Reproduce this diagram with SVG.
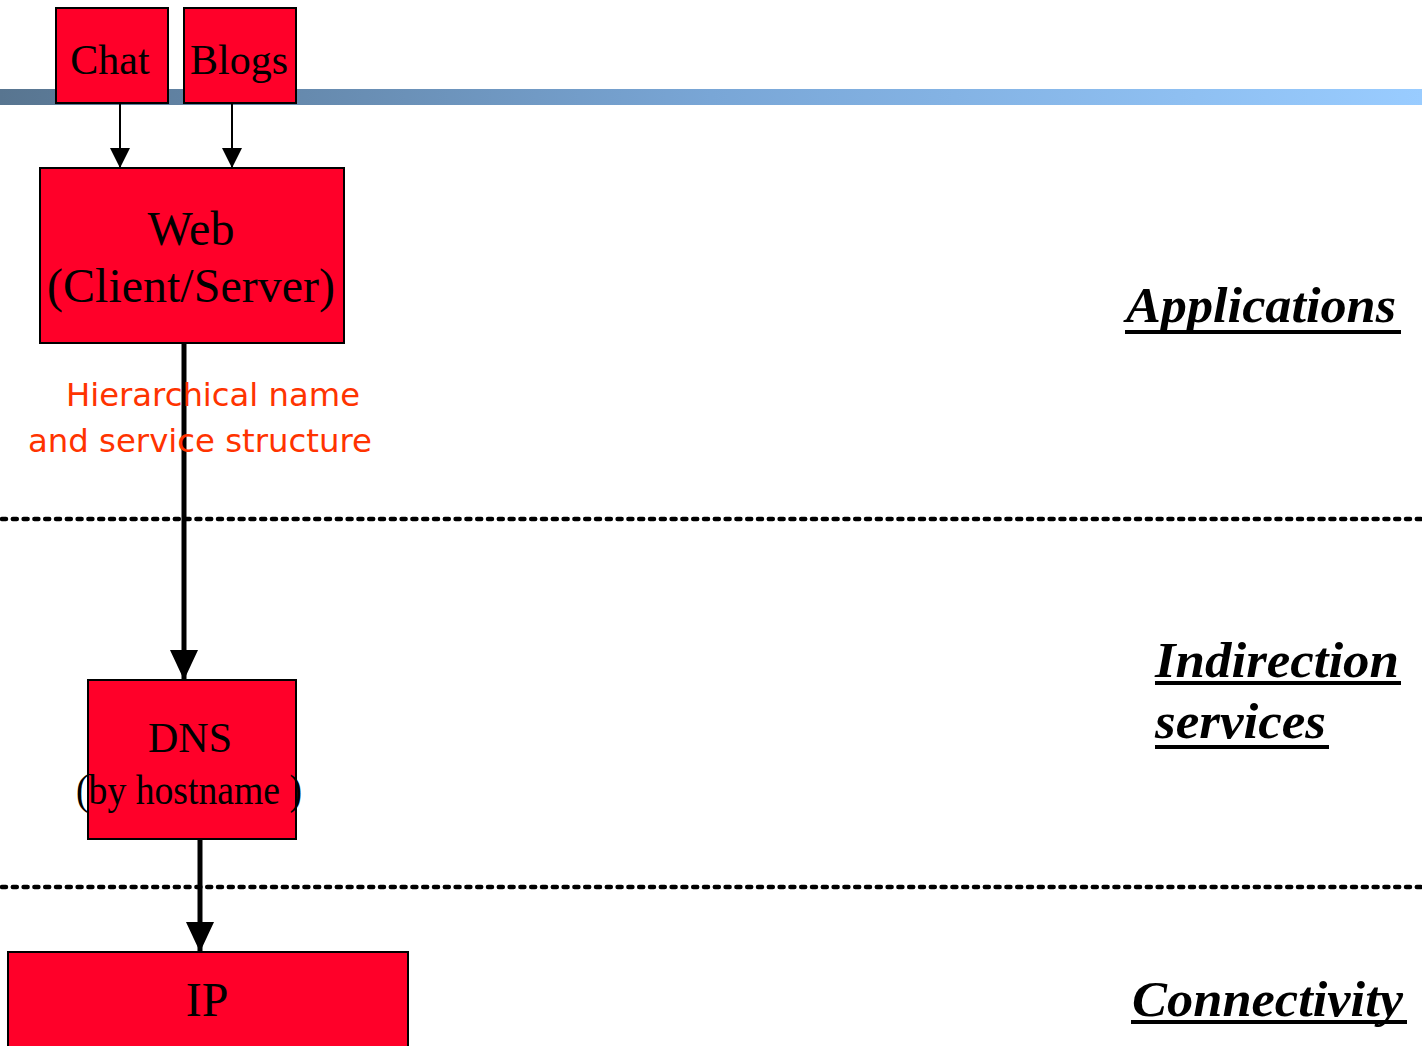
<svg xmlns="http://www.w3.org/2000/svg" width="1422" height="1046" viewBox="0 0 1422 1046">
  <defs>
    <linearGradient id="bar" x1="0" y1="0" x2="1" y2="0">
      <stop offset="0" stop-color="#587590"/>
      <stop offset="0.5" stop-color="#79a6d6"/>
      <stop offset="1" stop-color="#99ccff"/>
    </linearGradient>
    <marker id="headSmall" viewBox="0 0 20 20" markerWidth="20" markerHeight="20" refX="20" refY="10" orient="auto" markerUnits="userSpaceOnUse">
      <path d="M0,0 L20,10 L0,20 Z" fill="#000"/>
    </marker>
    <marker id="headBig" viewBox="0 0 30 28" markerWidth="30" markerHeight="28" refX="30" refY="14" orient="auto" markerUnits="userSpaceOnUse">
      <path d="M0,0 L30,14 L0,28 Z" fill="#000"/>
    </marker>
  </defs>
  <style>
    .box { fill: #ff0029; stroke: #000; stroke-width: 2; }
    .lbl { font-family: "Liberation Serif", "Times New Roman", serif; fill: #000; text-anchor: middle; }
    .layer { font-family: "Liberation Serif", "Times New Roman", serif; font-weight: bold; font-style: italic; font-size: 50px; fill: #000; }
    .uline { stroke: #000; stroke-width: 4; }
    .note { font-family: "DejaVu Sans", "Verdana", sans-serif; font-size: 32px; fill: #ff3300; }
    .sep { stroke: #000; stroke-width: 4.5; stroke-dasharray: 4 6.8; stroke-linecap: round; }
    .thin { stroke: #000; stroke-width: 2; fill: none; }
    .thick { stroke: #000; stroke-width: 5; fill: none; }
  </style>

  <rect width="1422" height="1046" fill="#fff"/>

  <!-- title bar -->
  <rect x="0" y="89" width="1422" height="16" fill="url(#bar)"/>

  <!-- layer separators -->
  <line class="sep" x1="2" y1="519" x2="1422" y2="519"/>
  <line class="sep" x1="2" y1="887" x2="1422" y2="887"/>

  <!-- layer names -->
  <g id="layer-applications">
    <text class="layer" x="1126" y="322" textLength="270" lengthAdjust="spacingAndGlyphs">Applications</text>
    <line class="uline" x1="1125" y1="332" x2="1401" y2="332"/>
  </g>
  <g id="layer-indirection">
    <text class="layer" x="1155" y="677" textLength="244" lengthAdjust="spacingAndGlyphs">Indirection</text>
    <line class="uline" x1="1155" y1="683" x2="1401" y2="683"/>
    <text class="layer" x="1155" y="738" textLength="171" lengthAdjust="spacingAndGlyphs">services</text>
    <line class="uline" x1="1155" y1="747" x2="1329" y2="747"/>
  </g>
  <g id="layer-connectivity">
    <text class="layer" x="1132" y="1016" textLength="271" lengthAdjust="spacingAndGlyphs">Connectivity</text>
    <line class="uline" x1="1131" y1="1022" x2="1407" y2="1022"/>
  </g>

  <!-- connectors -->
  <g id="connectors">
    <line class="thin" x1="120" y1="104" x2="120" y2="168" marker-end="url(#headSmall)"/>
    <line class="thin" x1="232" y1="104" x2="232" y2="168" marker-end="url(#headSmall)"/>
    <line class="thick" x1="184" y1="344" x2="184" y2="680" marker-end="url(#headBig)"/>
    <line class="thick" x1="200" y1="838" x2="200" y2="952" marker-end="url(#headBig)"/>
  </g>

  <!-- nodes -->
  <g id="chat">
    <rect class="box" x="56" y="8" width="112" height="95"/>
    <text class="lbl" x="110" y="74" font-size="42">Chat</text>
  </g>
  <g id="blogs">
    <rect class="box" x="184" y="8" width="112" height="95"/>
    <text class="lbl" x="239" y="74" font-size="42">Blogs</text>
  </g>
  <g id="web">
    <rect class="box" x="40" y="168" width="304" height="175"/>
    <text class="lbl" x="191" y="245" font-size="48">Web</text>
    <text class="lbl" x="191" y="302" font-size="48">(Client/Server)</text>
  </g>
  <g id="dns">
    <rect class="box" x="88" y="680" width="208" height="159"/>
    <text class="lbl" x="190" y="752" font-size="42">DNS</text>
    <text class="lbl" x="189" y="804" font-size="42" textLength="226" lengthAdjust="spacingAndGlyphs">(by hostname )</text>
  </g>
  <g id="ip">
    <rect class="box" x="8" y="952" width="400" height="100"/>
    <text class="lbl" x="207" y="1016" font-size="48">IP</text>
  </g>

  <!-- annotation on the Web to DNS link -->
  <g id="note">
    <text class="note" x="66" y="406" textLength="294" lengthAdjust="spacingAndGlyphs">Hierarchical name</text>
    <text class="note" x="28" y="452" textLength="344" lengthAdjust="spacingAndGlyphs">and service structure</text>
  </g>
</svg>
